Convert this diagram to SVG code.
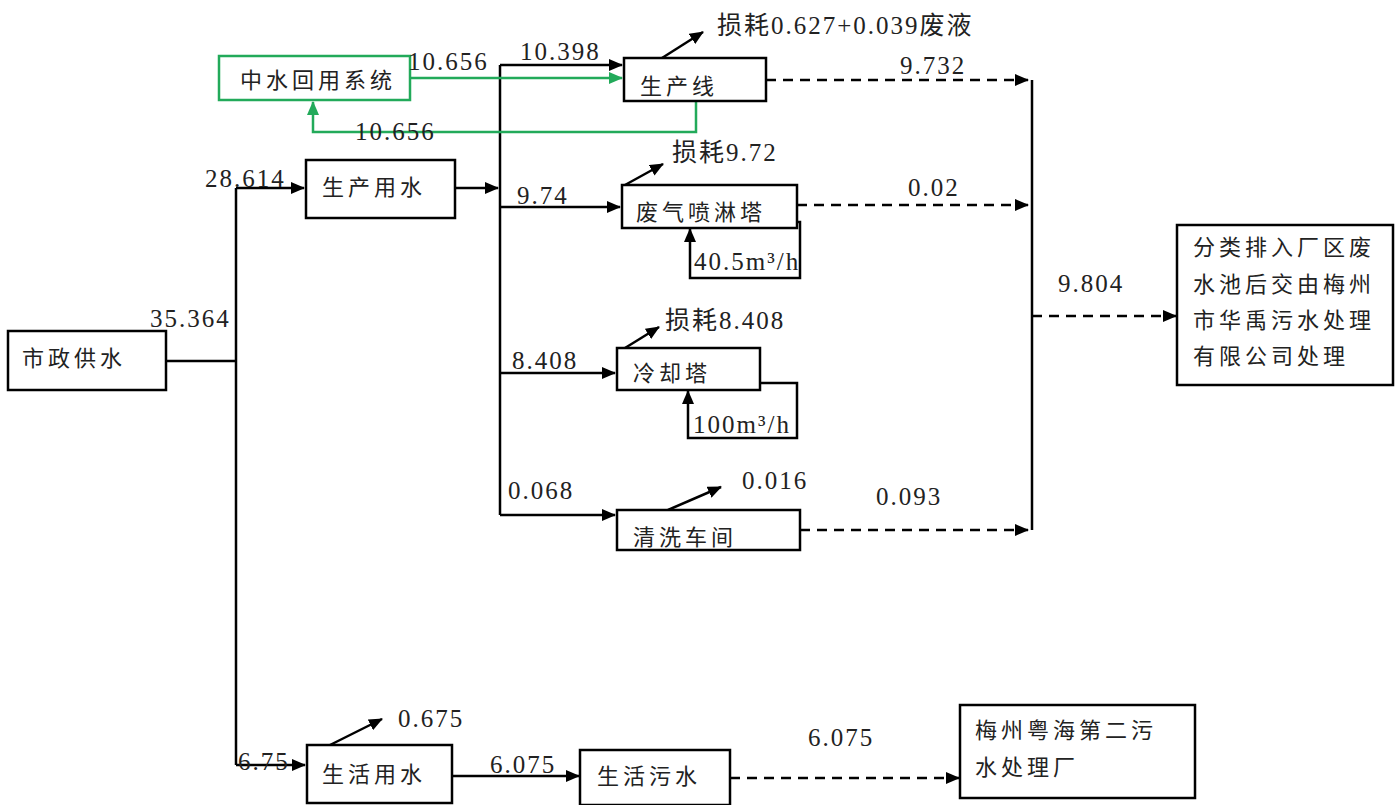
<svg xmlns="http://www.w3.org/2000/svg" width="1395" height="805" viewBox="0 0 1395 805">
<style>
.box{fill:#fff;stroke:#000;stroke-width:2.5}
.gbox{fill:#fff;stroke:#22aa5a;stroke-width:2.5}
.cn{font-family:"Liberation Serif","Noto Sans CJK SC",serif;font-size:22px;letter-spacing:4px;fill:#222}
.num{font-family:"Liberation Serif","Noto Sans CJK SC",serif;font-size:25px;letter-spacing:2px;fill:#222}
.ln{fill:none;stroke:#000;stroke-width:2.5}
.gl{fill:none;stroke:#22aa5a;stroke-width:2.5}
.dl{fill:none;stroke:#000;stroke-width:2.5;stroke-dasharray:10 7}
</style>
<defs>
<marker id="ah" markerUnits="userSpaceOnUse" markerWidth="14" markerHeight="12" refX="13" refY="6" orient="auto"><path d="M0,0 L14,6 L0,12 Z" fill="#000"/></marker>
<marker id="ag" markerUnits="userSpaceOnUse" markerWidth="14" markerHeight="12" refX="13" refY="6" orient="auto"><path d="M0,0 L14,6 L0,12 Z" fill="#22aa5a"/></marker>
</defs>
<rect width="1395" height="805" fill="#fff"/>
<g id="connectors">
<path class="ln" d="M165,361 H236"/>
<path class="ln" d="M236,188 V765"/>
<path class="ln" d="M236,188 H304" marker-end="url(#ah)"/>
<path class="ln" d="M236,765 H305" marker-end="url(#ah)"/>
<path class="ln" d="M455,188 H498" marker-end="url(#ah)"/>
<path class="ln" d="M500,65 V515"/>
<path class="ln" d="M500,65 H622" marker-end="url(#ah)"/>
<path class="ln" d="M500,207 H620" marker-end="url(#ah)"/>
<path class="ln" d="M500,373 H615" marker-end="url(#ah)"/>
<path class="ln" d="M500,515 H615" marker-end="url(#ah)"/>
<path class="gl" d="M410,78 H622" marker-end="url(#ag)"/>
<path class="gl" d="M696,101 V132 H313 V102" marker-end="url(#ag)"/>
<path class="ln" d="M662,58 L703,32" marker-end="url(#ah)"/>
<path class="ln" d="M625,185 L663,164" marker-end="url(#ah)"/>
<path class="ln" d="M625,348 L659,327" marker-end="url(#ah)"/>
<path class="ln" d="M668,510 L721,487" marker-end="url(#ah)"/>
<path class="ln" d="M330,745 L382,719" marker-end="url(#ah)"/>
<path class="ln" d="M770,222 H800 V278 H690 V229" marker-end="url(#ah)"/>
<path class="ln" d="M760,383 H797 V438 H688 V391" marker-end="url(#ah)"/>
<path class="dl" d="M766,80 H1028" marker-end="url(#ah)"/>
<path class="dl" d="M797,205 H1028" marker-end="url(#ah)"/>
<path class="dl" d="M800,530 H1028" marker-end="url(#ah)"/>
<path class="ln" d="M1032,80 V530"/>
<path class="dl" d="M1032,316 H1176" marker-end="url(#ah)"/>
<path class="ln" d="M452,776 H579" marker-end="url(#ah)"/>
<path class="dl" d="M730,778 H959" marker-end="url(#ah)"/>
</g>
<g id="n-szgs"><rect class="box" x="8" y="331" width="158" height="59"/><text class="cn" x="22" y="366">市政供水</text></g>
<g id="n-zshy"><rect class="gbox" x="219" y="56" width="191" height="44"/><text class="cn" x="240" y="88">中水回用系统</text></g>
<g id="n-scx"><rect class="box" x="624" y="58" width="142" height="43"/><text class="cn" x="640" y="94">生产线</text></g>
<g id="n-scys"><rect class="box" x="306" y="160" width="149" height="58"/><text class="cn" x="322" y="195">生产用水</text></g>
<g id="n-fqpl"><rect class="box" x="622" y="185" width="175" height="43"/><text class="cn" x="636" y="220">废气喷淋塔</text></g>
<g id="n-lqt"><rect class="box" x="617" y="348" width="143" height="42"/><text class="cn" x="633" y="381">冷却塔</text></g>
<g id="n-qxcj"><rect class="box" x="617" y="510" width="183" height="40"/><text class="cn" x="633" y="545">清洗车间</text></g>
<g id="n-shys"><rect class="box" x="307" y="745" width="145" height="58"/><text class="cn" x="322" y="782">生活用水</text></g>
<g id="n-shws"><rect class="box" x="580" y="750" width="150" height="55"/><text class="cn" x="597" y="784">生活污水</text></g>
<g id="n-hy"><rect class="box" x="1177" y="225" width="216" height="160"/>
<text class="cn" x="1193" y="255">分类排入厂区废</text>
<text class="cn" x="1193" y="292">水池后交由梅州</text>
<text class="cn" x="1193" y="328">市华禹污水处理</text>
<text class="cn" x="1193" y="364">有限公司处理</text></g>
<g id="n-yh"><rect class="box" x="960" y="705" width="235" height="93"/>
<text class="cn" x="975" y="738">梅州粤海第二污</text>
<text class="cn" x="975" y="775">水处理厂</text></g>
<g id="labels">
<text class="num" x="408" y="70">10.656</text>
<text class="num" x="520" y="60">10.398</text>
<text class="num" x="355" y="140">10.656</text>
<text class="num" x="205" y="187">28.614</text>
<text class="num" x="150" y="327">35.364</text>
<text class="num" x="517" y="204">9.74</text>
<text class="num" x="512" y="369">8.408</text>
<text class="num" x="508" y="499">0.068</text>
<text class="num" x="717" y="34">损耗0.627+0.039废液</text>
<text class="num" x="900" y="74">9.732</text>
<text class="num" x="672" y="161">损耗9.72</text>
<text class="num" x="908" y="196">0.02</text>
<text class="num" x="694" y="270">40.5m³/h</text>
<text class="num" x="665" y="329">损耗8.408</text>
<text class="num" x="693" y="433">100m³/h</text>
<text class="num" x="742" y="489">0.016</text>
<text class="num" x="876" y="505">0.093</text>
<text class="num" x="1058" y="292">9.804</text>
<text class="num" x="398" y="727">0.675</text>
<text class="num" x="238" y="770">6.75</text>
<text class="num" x="490" y="773">6.075</text>
<text class="num" x="808" y="746">6.075</text>
</g>
</svg>
